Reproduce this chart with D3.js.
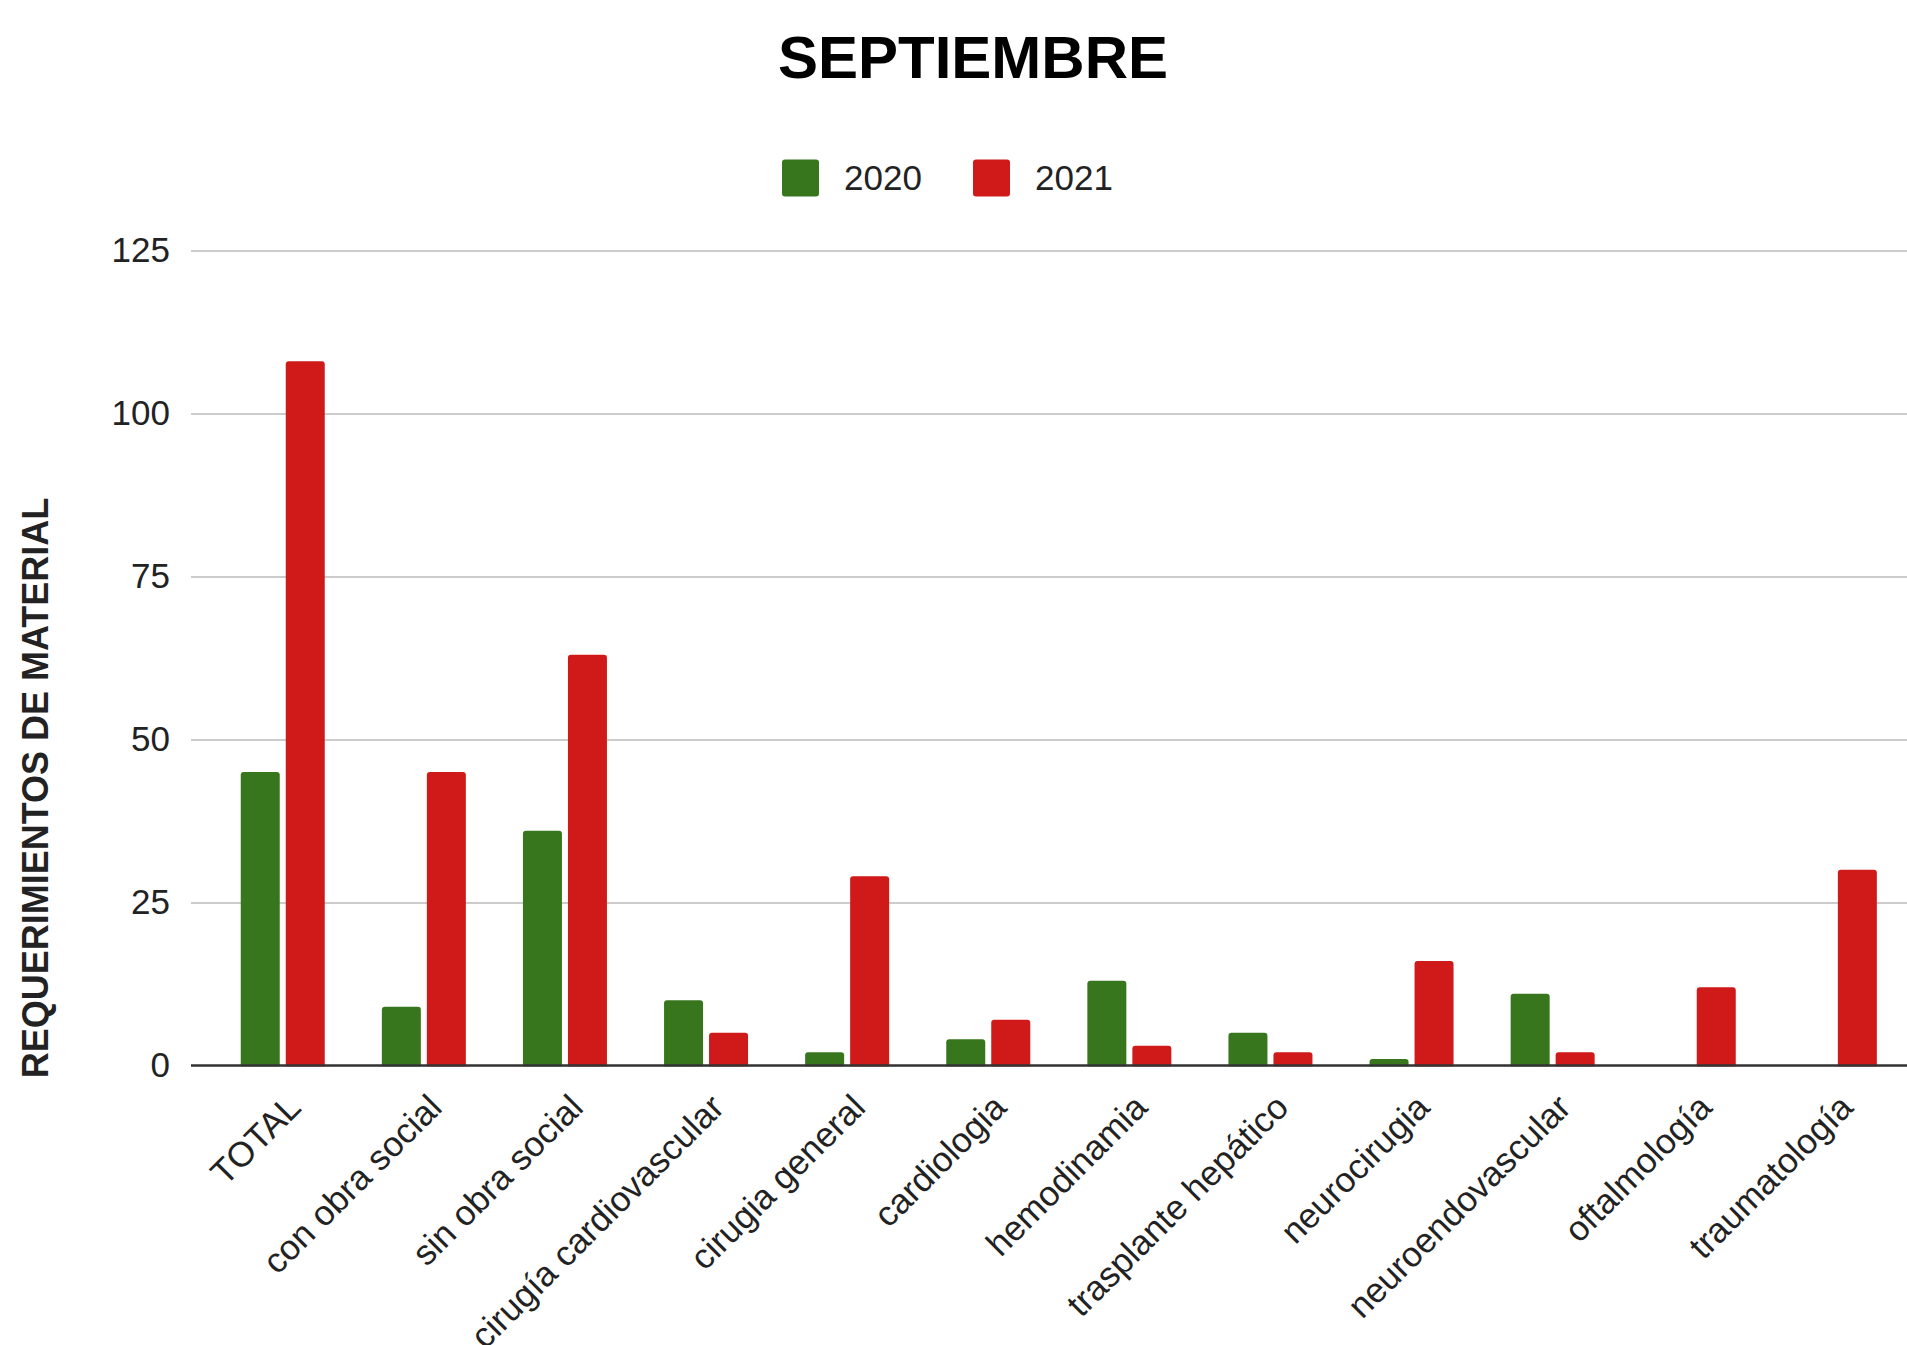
<!DOCTYPE html>
<html>
<head>
<meta charset="utf-8">
<script src="https://cdn.jsdelivr.net/npm/d3@7"></script>
<style>
  body { margin: 0; background: #fff; }
  #BarChart1 { width: 1907px; height: 1345px; overflow: hidden; }
</style>
</head>
<body>
<div id="BarChart1"></div>
<script>
// data
var categories = ["TOTAL", "con obra social", "sin obra social", "cirugía cardiovascular",
    "cirugia general", "cardiologia", "hemodinamia", "trasplante hepático",
    "neurocirugia", "neuroendovascular", "oftalmología", "traumatología"];
var values2020 = [45, 9, 36, 10, 2, 4, 13, 5, 1, 11, 0, 0];
var values2021 = [108, 45, 63, 5, 29, 7, 3, 2, 16, 2, 12, 30];
var seriesNames = ["2020", "2021"];
var yTicks = [0, 25, 50, 75, 100, 125];

var colors = {"2020": "#38761d", "2021": "#d01a1a"};

var width = 1907,
    height = 1345,
    plotLeft = 191,
    plotTop = 250.5,
    plotBottom = 1065.4;

var svg = d3.select("#BarChart1")
    .append("svg")
    .attr("width", width)
    .attr("height", height)
    .style("font-family", "Arial, 'Liberation Sans', sans-serif");

var y = d3.scaleLinear().domain([0, 125]).range([plotBottom, plotTop]);

// the chart is cut at the right edge, so the bands run right up to it
var x = d3.scaleBand().domain(categories).range([212.2, 1905.4]).padding(0);
var groupWidth = 84;
var xSub = d3.scaleBand().domain(seriesNames).range([0, groupWidth]).paddingInner(0.1333);

// title
svg.append("text")
    .attr("x", 973)
    .attr("y", 78)
    .attr("text-anchor", "middle")
    .attr("font-size", 60)
    .attr("font-weight", "bold")
    .attr("fill", "#000")
    .text("SEPTIEMBRE");

// legend
var legend = svg.append("g");
var legendX = [782, 973];
seriesNames.forEach(function(s, i) {
    legend.append("rect")
        .attr("x", legendX[i])
        .attr("y", 159.5)
        .attr("width", 37)
        .attr("height", 37)
        .attr("rx", 3)
        .attr("fill", colors[s]);
    legend.append("text")
        .attr("x", legendX[i] + 62)
        .attr("y", 190)
        .attr("font-size", 35)
        .attr("fill", "#222")
        .text(s);
});

// gridlines + y labels
var yAxis = d3.axisLeft(y).tickValues(yTicks).tickSize(-(width - plotLeft)).tickFormat(d3.format("d"));
var gy = svg.append("g")
    .attr("transform", "translate(" + plotLeft + ",0)")
    .call(yAxis);
gy.select(".domain").remove();
gy.selectAll(".tick line").attr("stroke", "#cccccc").attr("stroke-width", 2);
gy.selectAll(".tick text")
    .attr("x", -21)
    .attr("font-size", 35)
    .attr("font-family", "Arial, 'Liberation Sans', sans-serif")
    .attr("fill", "#222");

// y axis title
svg.append("text")
    .attr("transform", "translate(48,788) rotate(-90)")
    .attr("text-anchor", "middle")
    .attr("font-size", 36)
    .attr("font-weight", "bold")
    .attr("fill", "#222")
    .text("REQUERIMIENTOS DE MATERIAL");

// bars
var rows = categories.map(function(c, i) {
    return {cat: c, vals: [{key: "2020", v: values2020[i]}, {key: "2021", v: values2021[i]}]};
});

var groups = svg.append("g").selectAll("g")
    .data(rows)
    .join("g")
    .attr("transform", function(d) {
        return "translate(" + (x(d.cat) + (x.bandwidth() - groupWidth) / 2) + ",0)";
    });

groups.selectAll("rect")
    .data(function(d) { return d.vals.filter(function(e) { return e.v > 0; }); })
    .join("rect")
    .attr("x", function(d) { return xSub(d.key); })
    .attr("y", function(d) { return y(d.v); })
    .attr("width", xSub.bandwidth())
    .attr("height", function(d) { return plotBottom - y(d.v) + 3; })
    .attr("rx", 3)
    .attr("fill", function(d) { return colors[d.key]; });

// white strip to hide the rounded bottoms below the baseline
svg.append("rect")
    .attr("x", plotLeft)
    .attr("y", plotBottom + 1)
    .attr("width", width - plotLeft)
    .attr("height", 4)
    .attr("fill", "#fff");

// baseline
svg.append("line")
    .attr("x1", plotLeft)
    .attr("x2", width)
    .attr("y1", plotBottom)
    .attr("y2", plotBottom)
    .attr("stroke", "#333")
    .attr("stroke-width", 2.5);

// rotated category labels
svg.append("g").selectAll("text")
    .data(categories)
    .join("text")
    .attr("transform", function(d) {
        var cx = x(d) + x.bandwidth() / 2 + 20;
        return "translate(" + cx + "," + (plotBottom + 44) + ") rotate(-45)";
    })
    .attr("text-anchor", "end")
    .attr("font-size", 35)
    .attr("fill", "#222")
    .text(function(d) { return d; });
</script>
</body>
</html>
